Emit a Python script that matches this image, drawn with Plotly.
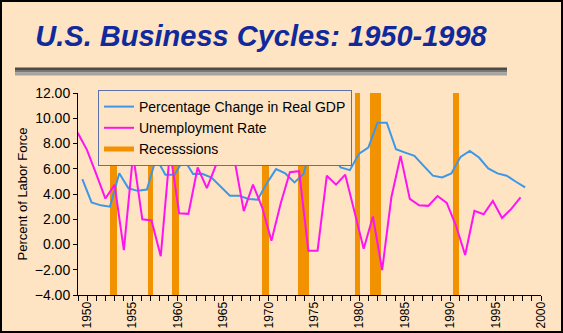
import plotly.graph_objects as go

# ---- data -------------------------------------------------------------
# Blue series: annual values 1950-1998 (plotted at mid-year)
gdp_years = list(range(1950, 1999))
gdp_change = [5.17, 3.33, 3.10, 3.00, 5.65, 4.45, 4.25, 4.35, 6.85, 5.52,
              5.52, 6.76, 5.58, 5.60, 5.30, 4.60, 3.87, 3.87, 3.61, 3.55,
              4.85, 5.97, 5.63, 4.92, 5.60, 8.45, 7.70, 7.15, 6.10, 5.89,
              7.20, 7.68, 9.65, 9.65, 7.54, 7.28, 7.02, 6.23, 5.45, 5.31,
              5.63, 6.94, 7.41, 6.89, 6.02, 5.63, 5.45, 4.97, 4.53]

# Magenta series: one value at the start of each year 1950-1998
unemp_years = list(range(1950, 1999))
unemployment = [8.85, 7.50, 5.60, 3.64, 4.72, -0.45, 7.13, 2.00, 1.90, -0.93,
                7.42, 2.48, 2.43, 6.10, 4.47, 6.31, 6.63, 6.68, 2.64, 4.74,
                2.93, 0.30, 3.25, 5.73, 5.81, -0.49, -0.49, 5.45, 4.74, 5.53,
                2.60, -0.33, 2.22, -2.03, 3.74, 7.02, 3.61, 3.10, 3.06, 3.84,
                3.30, 1.50, -0.83, 2.66, 2.40, 3.45, 2.10, 2.82, 3.74]

# Recession periods (peak -> trough, fractional years)
recession_start = [1953.50, 1957.59, 1960.26, 1969.96, 1973.93, 1980.08, 1981.63, 1990.67]
recession_end = [1954.23, 1958.14, 1961.02, 1970.75, 1975.12, 1980.59, 1982.86, 1991.36]

# Axis settings
y_min, y_max = -4, 12
year_ticks_from, year_ticks_to = 1949, 2000

# ---- styling ----------------------------------------------------------
FONT = "Liberation Sans, Arial, Helvetica, sans-serif"
BG = "#FEE4C3"
BLUE = "#3D97E8"
MAGENTA = "#FF14F0"
ORANGE = "#F29200"

W, H = 563, 333
L, R, T, B = 78, 22, 93, 38
PW, PH = W - L - R, H - T - B


def px_x(px):
    return (px - L) / PW


def px_y(py):
    return (H - B - py) / PH


fig = go.Figure()

# recession bands spanning the full value range
fig.add_trace(go.Bar(
    x=[(s + e) / 2 for s, e in zip(recession_start, recession_end)],
    width=[e - s for s, e in zip(recession_start, recession_end)],
    base=[y_min] * len(recession_start),
    y=[y_max - y_min] * len(recession_start),
    marker=dict(color=ORANGE, line=dict(width=0)),
    xaxis="x2", yaxis="y", showlegend=False, hoverinfo="skip",
))

fig.add_trace(go.Scatter(
    x=[y + 0.5 for y in gdp_years], y=gdp_change,
    mode="lines", line=dict(color=BLUE, width=2),
    name="Percentage Change in Real GDP", xaxis="x2",
))
fig.add_trace(go.Scatter(
    x=unemp_years, y=unemployment,
    mode="lines", line=dict(color=MAGENTA, width=2),
    name="Unemployment Rate", xaxis="x2",
))
# legend key for the recession bands (lives on the year-tick axis)
fig.add_trace(go.Scatter(
    x=[None], y=[None], mode="lines",
    line=dict(color=ORANGE, width=5), name="Recesssions", xaxis="x",
))

shapes = [
    # rule under the title
    dict(type="rect", xref="paper", yref="paper",
         x0=px_x(15), x1=px_x(507), y0=px_y(70), y1=px_y(67.5),
         fillcolor="#4E4A46", line=dict(width=0), layer="above"),
    dict(type="rect", xref="paper", yref="paper",
         x0=px_x(15), x1=px_x(507), y0=px_y(72.5), y1=px_y(70),
         fillcolor="#787878", line=dict(width=0), layer="above"),
    dict(type="rect", xref="paper", yref="paper",
         x0=px_x(15), x1=px_x(507), y0=px_y(75.5), y1=px_y(72.5),
         fillcolor="#A4A4A4", line=dict(width=0), layer="above"),
    # frame around the whole figure
    dict(type="rect", xref="paper", yref="paper",
         x0=px_x(1), x1=px_x(W - 1), y0=px_y(H - 1), y1=px_y(1),
         line=dict(color="black", width=2), layer="above"),
]

fig.update_layout(
    width=W, height=H,
    margin=dict(l=L, r=R, t=T, b=B, pad=0, autoexpand=False),
    paper_bgcolor=BG, plot_bgcolor=BG,
    font=dict(family=FONT, color="black", size=13),
    title=dict(
        text="U.S. Business Cycles: 1950-1998",
        font=dict(family=FONT, size=29, color="#10299B",
                  weight="bold", style="italic"),
        x=261 / W, xanchor="center", xref="container",
        y=1 - 36 / H, yanchor="middle", yref="container",
    ),
    showlegend=True,
    legend=dict(
        x=px_x(98), y=px_y(90), xanchor="left", yanchor="top",
        bgcolor=BG, bordercolor="#5B72A8", borderwidth=1,
        font=dict(family=FONT, size=14, color="black"),
        traceorder="normal", itemwidth=30,
    ),
    bargap=0,
    xaxis=dict(
        range=[year_ticks_from, year_ticks_to], automargin=False,
        tick0=1950, dtick=5, ticks="outside", ticklen=5, tickwidth=1,
        tickcolor="black", tickangle=-90, ticklabelstandoff=-4,
        tickfont=dict(family=FONT, size=12, color="black"),
        minor=dict(dtick=1, tick0=1950, ticks="outside", ticklen=5,
                   tickcolor="black", showgrid=False),
        showline=True, linecolor="black", linewidth=1,
        showgrid=False, zeroline=False, fixedrange=True,
    ),
    xaxis2=dict(
        range=[1950.03, 2000.22], overlaying="x", anchor="y",
        visible=False, showgrid=False, zeroline=False, automargin=False,
    ),
    yaxis=dict(
        range=[y_min, y_max], dtick=2, tickformat=".2f", automargin=False,
        ticks="outside", ticklen=4, tickcolor="black",
        tickfont=dict(family=FONT, size=14, color="black"),
        showline=True, linecolor="black", linewidth=1,
        showgrid=False, zeroline=False,
        title=dict(text="Percent of Labor Force",
                   font=dict(family=FONT, size=13, color="black"),
                   standoff=4),
    ),
    shapes=shapes,
)

fig.write_html("out.html")
